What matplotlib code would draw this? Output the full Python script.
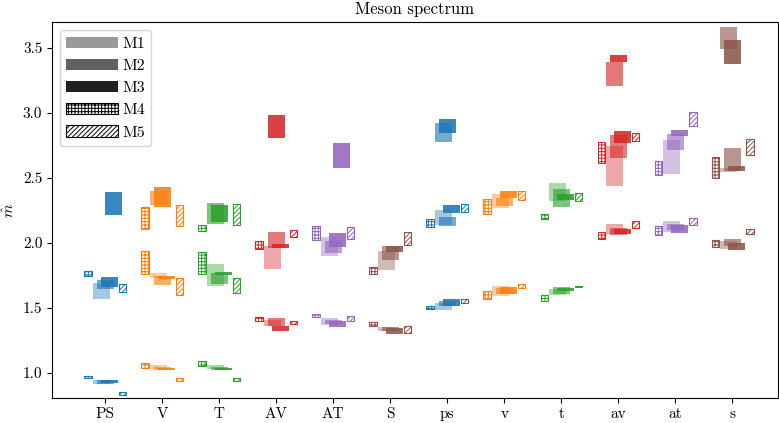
import matplotlib

matplotlib.use("Agg")
import matplotlib.pyplot as plt
from matplotlib.patches import Patch, Rectangle

# channels on the x axis and the ensembles shown for each of them
channels = ["PS", "V", "T", "AV", "AT", "S", "ps", "v", "t", "av", "at", "s"]
ensembles = ["M1", "M2", "M3", "M4", "M5"]

# masses per channel: [ground, first excited, second excited], None when missing
M1_mass = [[0.928, 1.631, None], [1.044, 1.745, None], [1.044, 1.750, None],
           [1.382, 1.887, None], [1.393, 1.969, None], [1.338, 1.861, None],
           [1.512, 2.194, None], [1.627, 2.323, None], [1.623, 2.389, None],
           [2.105, 2.587, None], [2.123, 2.662, None], [1.982, 2.559, None]]
M1_err = [[0.018, 0.062, None], [0.013, 0.019, None], [0.018, 0.083, None],
          [0.026, 0.087, None], [0.028, 0.074, None], [0.016, 0.073, None],
          [0.027, 0.060, None], [0.037, 0.054, None], [0.023, 0.070, None],
          [0.038, 0.154, None], [0.041, 0.131, None], [0.028, 0.015, None]]

M2_mass = [[0.930, 1.680, None], [1.034, 1.710, 2.345], [1.033, 1.725, 2.222],
           [1.390, 2.021, None], [1.393, 1.968, None], [1.335, 1.921, None],
           [1.531, 2.163, 2.848], [1.628, 2.313, None], [1.634, 2.343, None],
           [2.086, 2.741, 3.296], [2.121, 2.775, None], [2.003, 2.639, 3.576]]
M2_err = [[0.014, 0.035, None], [0.010, 0.035, 0.055], [0.010, 0.045, 0.081],
          [0.031, 0.062, None], [0.016, 0.045, None], [0.017, 0.051, None],
          [0.018, 0.035, 0.073], [0.026, 0.033, None], [0.026, 0.068, None],
          [0.030, 0.090, 0.094], [0.026, 0.064, None], [0.028, 0.090, 0.083]]

M3_mass = [[0.931, 1.700, 2.300], [1.029, 1.732, 2.354], [1.030, 1.764, 2.224],
           [1.341, 1.975, 2.895], [1.376, 2.022, 2.672], [1.320, 1.950, None],
           [1.539, 2.262, 2.900], [1.634, 2.371, None], [1.643, 2.352, None],
           [2.087, 2.814, 3.418], [2.105, 2.841, None], [1.971, 2.568, 3.464]]
M3_err = [[0.010, 0.038, 0.090], [0.009, 0.012, 0.077], [0.006, 0.010, 0.067],
          [0.018, 0.013, 0.090], [0.022, 0.055, 0.095], [0.022, 0.022, None],
          [0.026, 0.031, 0.054], [0.026, 0.027, None], [0.012, 0.026, None],
          [0.020, 0.045, 0.028], [0.028, 0.023, None], [0.030, 0.020, 0.092]]

M4_mass = [[0.966, 1.762, None], [1.056, 1.848, 2.190], [1.072, 1.845, 2.112],
           [1.413, 1.984, None], [1.440, 2.076, None], [1.376, 1.788, None],
           [1.500, 2.150, None], [1.599, 2.278, None], [1.573, 2.203, None],
           [2.057, 2.695, None], [2.094, 2.572, None], [1.994, 2.580, None]]
M4_err = [[0.006, 0.018, None], [0.022, 0.086, 0.088], [0.020, 0.083, 0.022],
          [0.013, 0.030, None], [0.009, 0.053, None], [0.014, 0.026, None],
          [0.013, 0.030, None], [0.030, 0.055, None], [0.022, 0.018, None],
          [0.026, 0.080, None], [0.032, 0.054, None], [0.027, 0.080, None]]

M5_mass = [[0.839, 1.651, None], [0.948, 1.664, 2.210], [0.948, 1.671, 2.217],
           [1.386, 2.072, None], [1.418, 2.076, None], [1.335, 2.031, None],
           [1.550, 2.266, None], [1.667, 2.362, None], [1.663, 2.350, None],
           [2.143, 2.814, None], [2.162, 2.950, None], [2.089, 2.736, None]]
M5_err = [[0.010, 0.031, None], [0.012, 0.064, 0.083], [0.009, 0.058, 0.083],
          [0.012, 0.026, None], [0.018, 0.045, None], [0.027, 0.051, None],
          [0.014, 0.030, None], [0.013, 0.036, None], [0.006, 0.032, None],
          [0.027, 0.030, None], [0.028, 0.055, None], [0.020, 0.060, None]]

y_ticks = [1.0, 1.5, 2.0, 2.5, 3.0, 3.5]

# drawing style for each ensemble: x shift per state, box width, alpha, hatch
STYLES = {
    "M1": {"shift": [-0.07, -0.07, -0.07], "width": 0.30, "alpha": 0.4, "hatch": None},
    "M2": {"shift": [0.0, 0.0, -0.07], "width": 0.30, "alpha": 0.62, "hatch": None},
    "M3": {"shift": [0.075, 0.075, 0.0], "width": 0.30, "alpha": 0.88, "hatch": None},
    "M4": {"shift": [-0.30, -0.30, -0.30], "width": 0.13, "alpha": 1.0, "hatch": "+++++"},
    "M5": {"shift": [0.305, 0.305, 0.305], "width": 0.13, "alpha": 1.0, "hatch": "///////"},
}
# the lone M3 second-excited boxes of PS and AT sit further right
M3_TOP_SHIFT = {"PS": 0.155, "AT": 0.15}
CHANNEL_COLORS = ["tab:blue", "tab:orange", "tab:green", "tab:red", "tab:purple", "tab:brown"]


def add_box(axis, x_center, mass, err, color, style):
    """Adds one mass estimate as a rectangle of height 2*err centred on x_center."""
    x_left = x_center - style["width"] / 2
    if style["hatch"] is None:
        box = Rectangle((x_left, mass - err), style["width"], 2 * err,
                        facecolor=color, edgecolor="none", alpha=style["alpha"])
    else:
        box = Rectangle((x_left, mass - err), style["width"], 2 * err,
                        facecolor="white", edgecolor=color, hatch=style["hatch"],
                        linewidth=0.8, alpha=style["alpha"])
    axis.add_patch(box)


def main():
    """Draws the meson spectrum and saves it to out.png."""
    plt.rcParams["font.family"] = ["cmr10", "DejaVu Serif"]
    plt.rcParams["mathtext.fontset"] = "cm"
    plt.rcParams["axes.formatter.use_mathtext"] = True
    plt.rcParams["hatch.linewidth"] = 0.7

    masses = {"M1": M1_mass, "M2": M2_mass, "M3": M3_mass, "M4": M4_mass, "M5": M5_mass}
    errors = {"M1": M1_err, "M2": M2_err, "M3": M3_err, "M4": M4_err, "M5": M5_err}

    fig = plt.figure(figsize=(7.79, 4.23), dpi=100)
    axis = fig.add_axes([0.0668, 0.059, 0.932, 0.888])

    for ens in ensembles:
        style = STYLES[ens]
        for index, channel in enumerate(channels):
            color = CHANNEL_COLORS[index % len(CHANNEL_COLORS)]
            for state, (mass, err) in enumerate(zip(masses[ens][index], errors[ens][index])):
                if mass is None:
                    continue
                shift = style["shift"][state]
                if ens == "M3" and state == 2:
                    shift = M3_TOP_SHIFT.get(channel, shift)
                add_box(axis, index + shift, mass, err, color, style)

    axis.set_xlim(-0.93, 11.8)
    axis.set_ylim(0.805, 3.695)
    axis.set_xticks(range(len(channels)))
    axis.set_xticklabels(channels, fontsize=11)
    axis.set_yticks(y_ticks)
    axis.set_yticklabels([f"{tick:.1f}" for tick in y_ticks], fontsize=11)
    axis.set_ylabel(r"$\hat{m}$", fontsize=11)
    axis.set_title("Meson spectrum", fontsize=12)

    handles = []
    for ens in ensembles:
        style = STYLES[ens]
        if style["hatch"] is None:
            handles.append(Patch(facecolor="k", edgecolor="none", alpha=style["alpha"], label=ens))
        else:
            handles.append(Patch(facecolor="white", edgecolor="k", hatch=style["hatch"],
                                 linewidth=0.8, label=ens))
    axis.legend(handles=handles, loc="upper left", fontsize=11.5, handlelength=3.2,
                handletextpad=0.3)

    fig.savefig("out.png", dpi=100)
    plt.close(fig)


if __name__ == "__main__":
    main()
